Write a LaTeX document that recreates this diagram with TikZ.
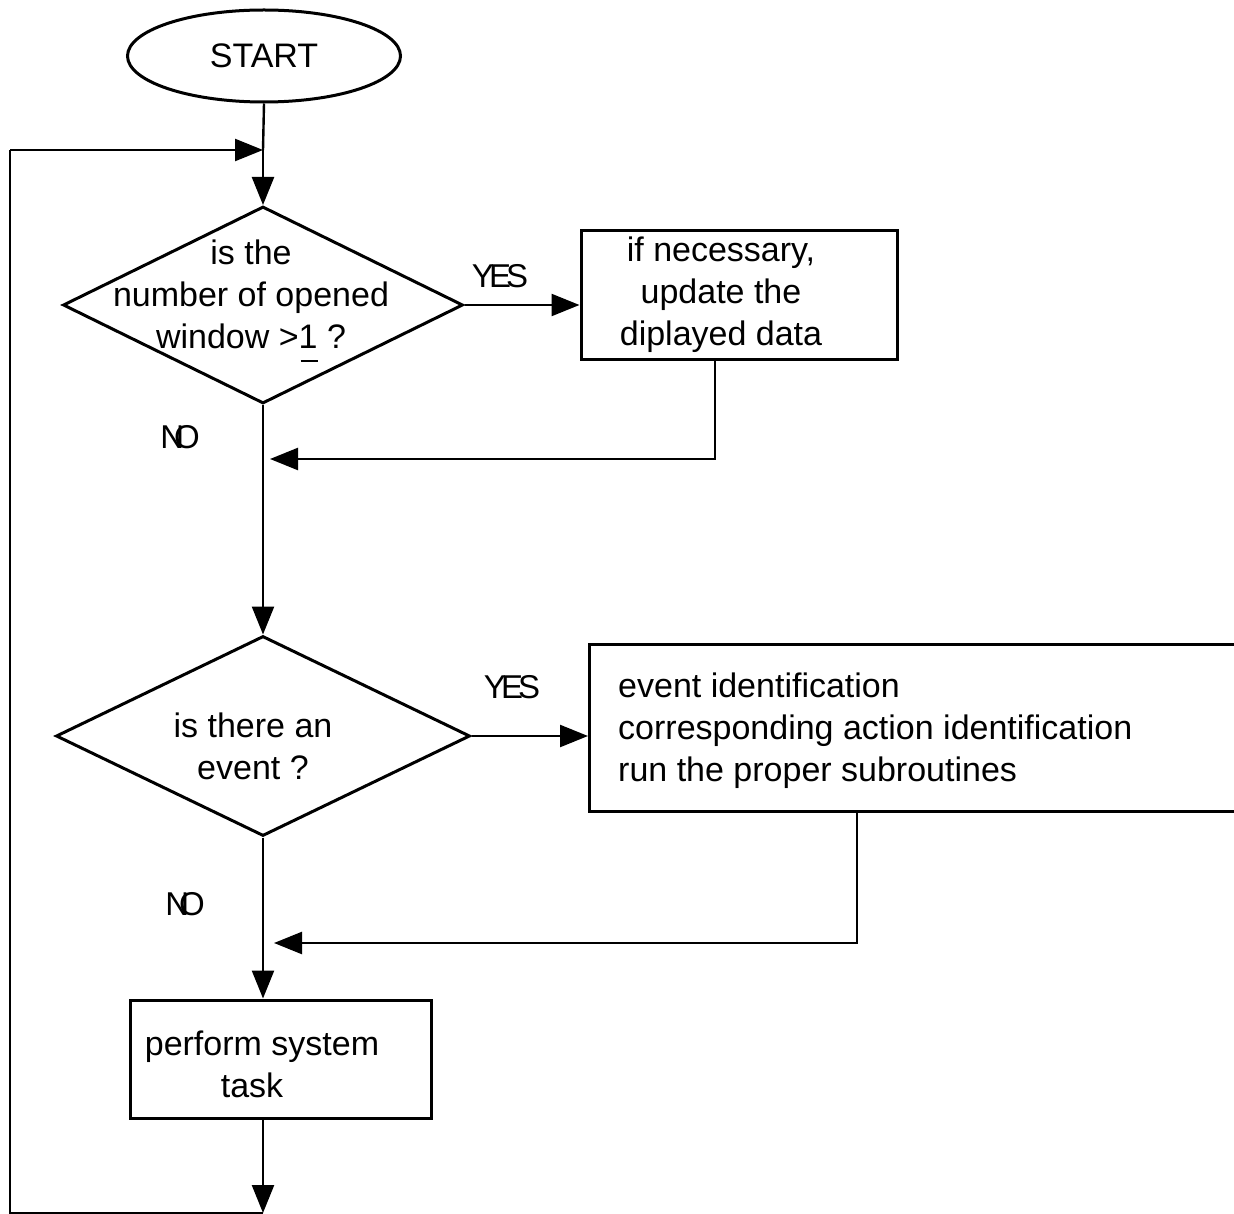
\documentclass[tikz,border=0pt]{standalone}
\usepackage{fontspec}
\setmainfont{Liberation Sans}
\usetikzlibrary{shapes.geometric,arrows.meta}
\begin{document}
\begin{tikzpicture}[x=1pt,y=-1pt,
  shp/.style={draw,line width=3pt,inner sep=0pt},
  conn/.style={line width=2.4pt},
  arr/.style={conn,-{Triangle[length=28pt,width=22pt]}},
  txt/.style={font=\fontsize{34}{42}\selectfont,align=center,inner sep=0pt},
  lbl/.style={font=\fontsize{33}{38}\selectfont,inner sep=0pt}]
\useasboundingbox (0,0) rectangle (1234,1214);
\clip (0,0) rectangle (1234,1214);

% shapes
\node[shp,ellipse,minimum width=273pt,minimum height=92pt,font=\fontsize{34}{42}\selectfont] (start) at (264,56) {START};
\node[shp,diamond,minimum width=400pt,minimum height=197pt] (d1) at (263,305) {};
\node[txt] (d1t) at (251,294) {is the\\number of opened\\window >1\smash{\llap{\rule[-14pt]{17pt}{2.5pt}}} ?};
\node[shp,rectangle,minimum width=316pt,minimum height=129pt] (b1) at (739,295.5) {};
\node[txt] (b1t) at (721,295) {if necessary,\\ update the\\diplayed data};
\node[shp,diamond,minimum width=414pt,minimum height=200pt] (d2) at (263,736) {};
\node[txt] (d2t) at (253,746) {is there an\\event ?};
\node[shp,rectangle,anchor=north west,minimum width=700pt,minimum height=167pt] (b2) at (588,643) {};
\node[txt,align=left,anchor=west] (b2t) at (618,731) {event identification\\corresponding action identification\\run the proper subroutines};
\node[shp,rectangle,minimum width=301pt,minimum height=118pt] (b3) at (280.5,1059) {};
\node[txt] (b3t) at (262,1064) {perform system\\task\kern20pt};

% labels
\node[lbl] (yes1) at (500,276) {Y\kern-5pt E\kern-5pt S};
\node[lbl] (no1) at (180,437) {N\kern-10pt O};
\node[lbl] (yes2) at (512,687) {Y\kern-5pt E\kern-5pt S};
\node[lbl] (no2) at (185,904) {N\kern-10pt O};

% coordinates
\coordinate (join) at (263,150);
\coordinate (m1) at (270,459);
\coordinate (m2) at (274,943);
\coordinate (bot) at (263,1213);
\coordinate (ll) at (10,1213);
\coordinate (ul) at (10,150);

% connectors
\draw[conn] (start.south) -- (join);
\draw[arr] (join) -- (d1.north);
\draw[arr] (ul) -- (join);
\draw[arr] (d1.east) -- (d1.east -| b1.west);
\draw[arr] (b1.south -| 715,0) |- (m1);
\draw[arr] (d1.south) -- (d2.north);
\draw[arr] (d2.east) -- (d2.east -| b2.west);
\draw[arr] (b2.south -| 857,0) |- (m2);
\draw[arr] (d2.south) -- (b3.north -| d2.south);
\draw[arr] (b3.south -| d2.south) -- (bot);
\draw[conn] (bot) -- (ll) -- (ul);
\end{tikzpicture}
\end{document}
